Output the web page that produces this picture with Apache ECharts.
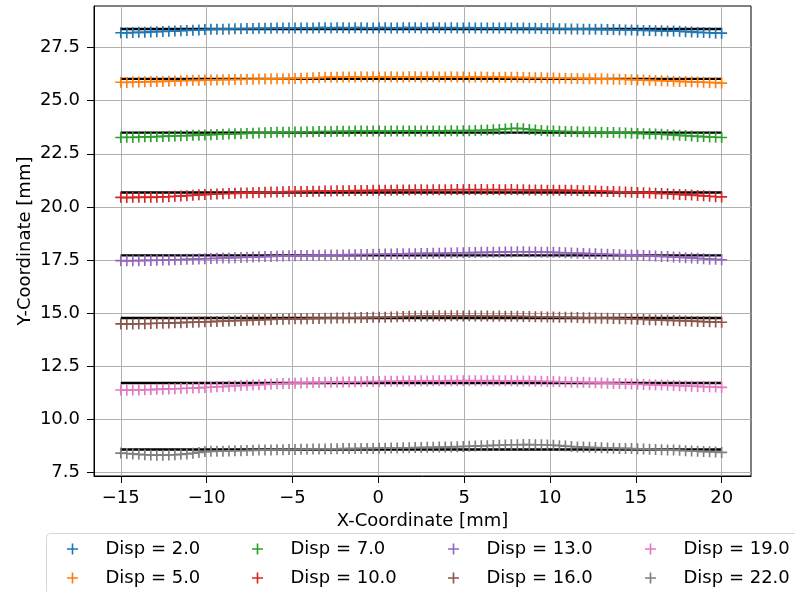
<!DOCTYPE html>
<html>
<head>
<meta charset="utf-8">
<script src="https://cdn.jsdelivr.net/npm/echarts@6/dist/echarts.min.js"></script>
<style>
html,body{margin:0;padding:0;background:#fff;}
#chart{width:795px;height:592px;}
</style>
</head>
<body>
<div id="chart"></div>
<script>
const xs = [-15, -14.65, -14.3, -13.95, -13.6, -13.25, -12.9, -12.55, -12.2, -11.85,
  -11.5, -11.15, -10.8, -10.45, -10.1, -9.75, -9.4, -9.05, -8.7, -8.35,
  -8, -7.65, -7.3, -6.95, -6.6, -6.25, -5.9, -5.55, -5.2, -4.85,
  -4.5, -4.15, -3.8, -3.45, -3.1, -2.75, -2.4, -2.05, -1.7, -1.35,
  -1, -0.65, -0.3, 0.05, 0.4, 0.75, 1.1, 1.45, 1.8, 2.15,
  2.5, 2.85, 3.2, 3.55, 3.9, 4.25, 4.6, 4.95, 5.3, 5.65,
  6, 6.35, 6.7, 7.05, 7.4, 7.75, 8.1, 8.45, 8.8, 9.15,
  9.5, 9.85, 10.2, 10.55, 10.9, 11.25, 11.6, 11.95, 12.3, 12.65,
  13, 13.35, 13.7, 14.05, 14.4, 14.75, 15.1, 15.45, 15.8, 16.15,
  16.5, 16.85, 17.2, 17.55, 17.9, 18.25, 18.6, 18.95, 19.3, 19.65,
  20];

const disp2 = [28.20, 28.19, 28.21, 28.22, 28.22, 28.24, 28.25, 28.26, 28.27, 28.28,
  28.30, 28.31, 28.32, 28.33, 28.35, 28.36, 28.37, 28.37, 28.38, 28.39,
  28.39, 28.40, 28.40, 28.41, 28.41, 28.41, 28.42, 28.42, 28.42, 28.43,
  28.43, 28.43, 28.43, 28.44, 28.44, 28.43, 28.44, 28.44, 28.43, 28.44,
  28.44, 28.43, 28.43, 28.44, 28.44, 28.43, 28.43, 28.44, 28.44, 28.44,
  28.43, 28.43, 28.44, 28.44, 28.43, 28.44, 28.43, 28.43, 28.44, 28.43,
  28.43, 28.42, 28.43, 28.42, 28.42, 28.42, 28.41, 28.42, 28.41, 28.41,
  28.40, 28.40, 28.40, 28.39, 28.39, 28.38, 28.38, 28.37, 28.37, 28.36,
  28.36, 28.35, 28.35, 28.34, 28.33, 28.33, 28.32, 28.31, 28.31, 28.30,
  28.29, 28.28, 28.28, 28.27, 28.25, 28.24, 28.22, 28.21, 28.20, 28.18,
  28.18];

const disp5 = [25.87, 25.86, 25.88, 25.88, 25.89, 25.90, 25.90, 25.91, 25.92, 25.93,
  25.94, 25.95, 25.96, 25.96, 25.97, 25.98, 25.98, 25.99, 25.99, 26.00,
  26.00, 26.01, 26.01, 26.02, 26.02, 26.03, 26.03, 26.04, 26.04, 26.05,
  26.06, 26.07, 26.08, 26.09, 26.10, 26.11, 26.11, 26.12, 26.12, 26.12,
  26.13, 26.12, 26.13, 26.12, 26.12, 26.13, 26.12, 26.12, 26.13, 26.13,
  26.12, 26.13, 26.13, 26.12, 26.12, 26.13, 26.12, 26.12, 26.11, 26.12,
  26.12, 26.11, 26.11, 26.11, 26.10, 26.10, 26.10, 26.09, 26.09, 26.08,
  26.08, 26.07, 26.07, 26.06, 26.06, 26.05, 26.05, 26.04, 26.04, 26.03,
  26.03, 26.02, 26.01, 26.01, 26.00, 25.99, 25.98, 25.97, 25.96, 25.95,
  25.94, 25.93, 25.92, 25.91, 25.90, 25.89, 25.88, 25.87, 25.86, 25.85,
  25.83];

const disp7 = [23.27, 23.28, 23.27, 23.29, 23.30, 23.30, 23.31, 23.32, 23.33, 23.34,
  23.35, 23.36, 23.37, 23.38, 23.39, 23.40, 23.41, 23.42, 23.43, 23.44,
  23.45, 23.46, 23.47, 23.48, 23.49, 23.50, 23.51, 23.51, 23.52, 23.53,
  23.53, 23.54, 23.54, 23.55, 23.55, 23.55, 23.56, 23.56, 23.56, 23.57,
  23.57, 23.56, 23.57, 23.57, 23.56, 23.57, 23.57, 23.58, 23.57, 23.58,
  23.58, 23.57, 23.58, 23.58, 23.58, 23.59, 23.58, 23.59, 23.59, 23.60,
  23.61, 23.62, 23.63, 23.65, 23.67, 23.69, 23.70, 23.68, 23.65, 23.62,
  23.60, 23.58, 23.57, 23.56, 23.55, 23.55, 23.54, 23.53, 23.53, 23.52,
  23.51, 23.50, 23.50, 23.49, 23.48, 23.47, 23.46, 23.45, 23.44, 23.43,
  23.42, 23.40, 23.39, 23.37, 23.36, 23.34, 23.32, 23.31, 23.29, 23.28,
  23.27];

const disp10 = [20.45, 20.44, 20.45, 20.45, 20.46, 20.45, 20.46, 20.47, 20.48, 20.50,
  20.51, 20.53, 20.55, 20.57, 20.58, 20.60, 20.61, 20.62, 20.63, 20.64,
  20.65, 20.66, 20.67, 20.68, 20.69, 20.70, 20.70, 20.71, 20.72, 20.72,
  20.73, 20.73, 20.74, 20.74, 20.75, 20.75, 20.76, 20.76, 20.76, 20.77,
  20.77, 20.77, 20.78, 20.78, 20.79, 20.79, 20.80, 20.80, 20.80, 20.81,
  20.81, 20.80, 20.81, 20.81, 20.81, 20.81, 20.82, 20.81, 20.82, 20.81,
  20.82, 20.81, 20.82, 20.81, 20.81, 20.82, 20.81, 20.81, 20.80, 20.80,
  20.80, 20.79, 20.79, 20.79, 20.78, 20.78, 20.77, 20.76, 20.76, 20.75,
  20.74, 20.73, 20.72, 20.71, 20.70, 20.69, 20.68, 20.67, 20.66, 20.64,
  20.63, 20.62, 20.60, 20.59, 20.57, 20.56, 20.54, 20.52, 20.50, 20.48,
  20.47];

const disp13 = [17.47, 17.46, 17.47, 17.47, 17.48, 17.48, 17.49, 17.50, 17.50, 17.51,
  17.52, 17.53, 17.54, 17.55, 17.56, 17.57, 17.58, 17.59, 17.60, 17.61,
  17.62, 17.63, 17.64, 17.65, 17.66, 17.67, 17.68, 17.69, 17.70, 17.70,
  17.71, 17.71, 17.72, 17.72, 17.73, 17.73, 17.74, 17.74, 17.75, 17.75,
  17.76, 17.76, 17.77, 17.77, 17.78, 17.78, 17.79, 17.79, 17.80, 17.80,
  17.81, 17.81, 17.82, 17.82, 17.83, 17.83, 17.84, 17.84, 17.85, 17.85,
  17.86, 17.86, 17.87, 17.87, 17.88, 17.88, 17.89, 17.89, 17.88, 17.88,
  17.87, 17.87, 17.86, 17.85, 17.84, 17.83, 17.82, 17.81, 17.80, 17.79,
  17.78, 17.77, 17.76, 17.75, 17.74, 17.73, 17.72, 17.71, 17.70, 17.69,
  17.67, 17.66, 17.64, 17.63, 17.61, 17.60, 17.58, 17.56, 17.54, 17.53,
  17.51];

const disp16 = [14.49, 14.48, 14.49, 14.50, 14.50, 14.51, 14.52, 14.52, 14.53, 14.54,
  14.55, 14.56, 14.57, 14.58, 14.59, 14.60, 14.61, 14.62, 14.63, 14.64,
  14.65, 14.66, 14.67, 14.68, 14.69, 14.70, 14.71, 14.71, 14.72, 14.73,
  14.73, 14.74, 14.75, 14.75, 14.76, 14.76, 14.77, 14.77, 14.78, 14.78,
  14.79, 14.79, 14.80, 14.80, 14.81, 14.82, 14.83, 14.84, 14.85, 14.85,
  14.86, 14.86, 14.86, 14.87, 14.86, 14.87, 14.87, 14.86, 14.87, 14.86,
  14.86, 14.86, 14.85, 14.86, 14.85, 14.85, 14.85, 14.84, 14.84, 14.83,
  14.83, 14.82, 14.82, 14.81, 14.80, 14.80, 14.79, 14.78, 14.78, 14.77,
  14.76, 14.76, 14.75, 14.74, 14.73, 14.72, 14.71, 14.70, 14.69, 14.68,
  14.67, 14.66, 14.65, 14.64, 14.63, 14.62, 14.61, 14.60, 14.59, 14.58,
  14.57];

const disp19 = [11.38, 11.37, 11.38, 11.38, 11.39, 11.40, 11.41, 11.42, 11.43, 11.44,
  11.45, 11.46, 11.47, 11.48, 11.50, 11.51, 11.53, 11.54, 11.56, 11.57,
  11.59, 11.60, 11.62, 11.63, 11.64, 11.66, 11.67, 11.68, 11.69, 11.70,
  11.71, 11.72, 11.73, 11.73, 11.74, 11.75, 11.75, 11.76, 11.76, 11.77,
  11.77, 11.78, 11.78, 11.78, 11.79, 11.79, 11.79, 11.80, 11.80, 11.80,
  11.81, 11.80, 11.81, 11.81, 11.81, 11.82, 11.81, 11.82, 11.82, 11.81,
  11.82, 11.81, 11.82, 11.81, 11.81, 11.81, 11.80, 11.80, 11.80, 11.79,
  11.79, 11.78, 11.78, 11.77, 11.76, 11.75, 11.75, 11.74, 11.73, 11.72,
  11.71, 11.70, 11.69, 11.68, 11.67, 11.66, 11.65, 11.64, 11.63, 11.62,
  11.61, 11.60, 11.59, 11.58, 11.57, 11.56, 11.55, 11.54, 11.53, 11.52,
  11.50];

const disp22 = [8.41, 8.39, 8.37, 8.35, 8.33, 8.32, 8.31, 8.31, 8.32, 8.33,
  8.35, 8.37, 8.40, 8.44, 8.48, 8.49, 8.50, 8.50, 8.51, 8.52,
  8.52, 8.53, 8.54, 8.55, 8.56, 8.56, 8.57, 8.57, 8.58, 8.58,
  8.59, 8.59, 8.60, 8.60, 8.60, 8.61, 8.61, 8.62, 8.62, 8.62,
  8.63, 8.63, 8.63, 8.64, 8.64, 8.65, 8.65, 8.66, 8.66, 8.67,
  8.67, 8.68, 8.68, 8.69, 8.69, 8.70, 8.71, 8.72, 8.73, 8.74,
  8.75, 8.76, 8.77, 8.78, 8.79, 8.80, 8.80, 8.81, 8.81, 8.80,
  8.80, 8.79, 8.78, 8.76, 8.74, 8.72, 8.70, 8.69, 8.68, 8.67,
  8.66, 8.65, 8.64, 8.63, 8.63, 8.62, 8.61, 8.60, 8.59, 8.58,
  8.57, 8.56, 8.55, 8.54, 8.52, 8.51, 8.50, 8.48, 8.47, 8.46,
  8.44];

const refY = [28.38, 26.03, 23.50, 20.68, 17.72, 14.77, 11.71, 8.58];
const names = ['Disp = 2.0', 'Disp = 5.0', 'Disp = 7.0', 'Disp = 10.0',
               'Disp = 13.0', 'Disp = 16.0', 'Disp = 19.0', 'Disp = 22.0'];
const xTicks = [-15, -10, -5, 0, 5, 10, 15, 20];
const yTicks = [7.5, 10, 12.5, 15, 17.5, 20, 22.5, 25, 27.5];

const seriesValues = [disp2, disp5, disp7, disp10, disp13, disp16, disp19, disp22];
const colors = ['#1f77b4', '#ff7f0e', '#2ca02c', '#d62728', '#9467bd', '#8c564b', '#e377c2', '#7f7f7f'];
const PLUS = 'path://M4.25,0H5.75V4.25H10V5.75H5.75V10H4.25V5.75H0V4.25H4.25Z';
const FONT = 'DejaVu Sans';

const series = [];
refY.forEach((v, k) => {
  series.push({
    type: 'line', name: 'ref' + k, data: [[xs[0], v], [xs[xs.length - 1], v]],
    showSymbol: false, symbol: 'none', silent: true, z: 2,
    lineStyle: { color: '#000', width: 2.4 }
  });
});
seriesValues.forEach((vals, k) => {
  series.push({
    type: 'scatter', name: names[k], symbol: PLUS, symbolSize: 11, z: 3,
    itemStyle: { color: colors[k], opacity: 1 },
    data: xs.map((x, i) => [x, vals[i]])
  });
});

const fmtX = v => (v < 0 ? '\u2212' + Math.abs(v) : String(v));
const legendCols = [67, 252, 448, 645];
const legends = legendCols.map((left, c) => ({
  orient: 'vertical', left: left, top: 540, padding: 0,
  itemWidth: 56, itemHeight: 11, itemGap: 11, symbolKeepAspect: true,
  textStyle: { fontSize: 18, fontFamily: FONT, color: '#000' },
  data: [names[2 * c], names[2 * c + 1]].map(n => ({ name: n, icon: PLUS })),
  selectedMode: false
}));

const chart = echarts.init(document.getElementById('chart'), null, { renderer: 'canvas' });
chart.setOption({
  animation: false,
  backgroundColor: '#fff',
  textStyle: { fontFamily: FONT },
  grid: { left: 94, right: 44, top: 6, bottom: 116, show: true, borderColor: '#000', borderWidth: 1, backgroundColor: 'transparent' },
  xAxis: {
    type: 'value', min: -16.56, max: 21.71,
    name: 'X-Coordinate [mm]', nameLocation: 'middle', nameGap: 36,
    nameTextStyle: { fontSize: 18, fontFamily: FONT, color: '#000' },
    axisLine: { show: true, onZero: false, lineStyle: { color: '#000', width: 1 } },
    axisTick: { show: true, length: 7, customValues: xTicks, lineStyle: { color: '#000', width: 1 } },
    axisLabel: { customValues: xTicks, formatter: fmtX, fontSize: 18, fontFamily: FONT, color: '#000', margin: 13 },
    splitLine: { show: true, lineStyle: { color: '#b0b0b0', width: 1 } }
  },
  yAxis: {
    type: 'value', min: 7.33, max: 29.46,
    name: 'Y-Coordinate [mm]', nameLocation: 'middle', nameGap: 60, nameRotate: 90,
    nameMoveOverlap: false,
    nameTextStyle: { fontSize: 18, fontFamily: FONT, color: '#000' },
    axisLine: { show: true, onZero: false, lineStyle: { color: '#000', width: 1 } },
    axisTick: { show: true, length: 7, customValues: yTicks, lineStyle: { color: '#000', width: 1 } },
    axisLabel: { customValues: yTicks, formatter: v => Number(v).toFixed(1), fontSize: 18, fontFamily: FONT, color: '#000', margin: 14 },
    splitLine: { show: true, lineStyle: { color: '#b0b0b0', width: 1 } }
  },
  legend: legends,
  graphic: [{
    type: 'rect', left: 46, top: 533, z: -1, silent: true,
    shape: { width: 770, height: 62, r: 4 },
    style: { fill: 'rgba(255,255,255,0.8)', stroke: '#d6d6d6', lineWidth: 1 }
  }],
  series: series
});
</script>
</body>
</html>
